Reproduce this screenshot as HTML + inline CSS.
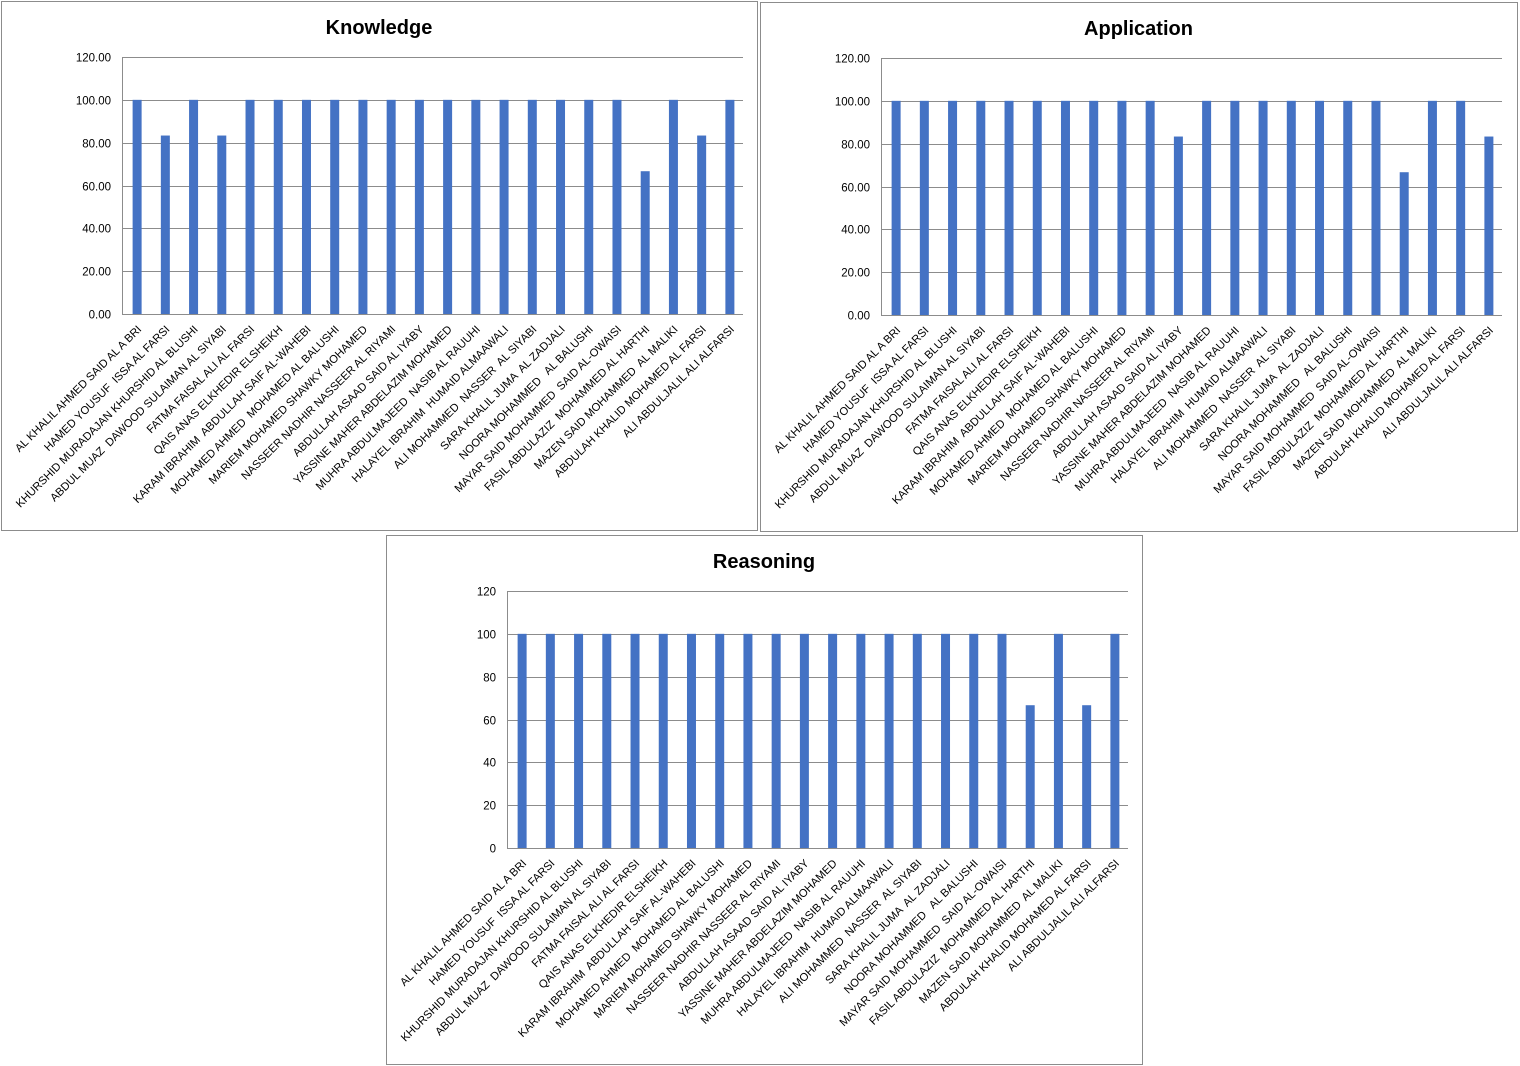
<!DOCTYPE html>
<html><head><meta charset="utf-8"><style>
html,body{margin:0;padding:0;background:#fff;width:1520px;height:1066px;overflow:hidden}
svg{display:block}
text{font-family:"Liberation Sans",sans-serif}
</style></head><body>
<svg id="s" width="1520" height="1066" xmlns="http://www.w3.org/2000/svg"></svg>
<script>
const names=["AL KHALIL AHMED SAID AL A BRI","HAMED YOUSUF  ISSA AL FARSI","KHURSHID MURADAJAN KHURSHID AL BLUSHI","ABDUL MUAZ  DAWOOD SULAIMAN AL SIYABI","FATMA FAISAL ALI AL FARSI","QAIS ANAS ELKHEDIR ELSHEIKH","KARAM IBRAHIM  ABDULLAH SAIF AL-WAHEBI","MOHAMED AHMED  MOHAMED AL BALUSHI","MARIEM MOHAMED SHAWKY MOHAMED","NASSEER NADHIR NASSEER AL RIYAMI","ABDULLAH ASAAD SAID AL IYABY","YASSINE MAHER ABDELAZIM MOHAMED","MUHRA ABDULMAJEED  NASIB AL RAUUHI","HALAYEL IBRAHIM  HUMAID ALMAAWALI","ALI MOHAMMED  NASSER  AL SIYABI","SARA KHALIL JUMA  AL ZADJALI","NOORA MOHAMMED   AL BALUSHI","MAYAR SAID MOHAMMED  SAID AL-OWAISI","FASIL ABDULAZIZ  MOHAMMED AL HARTHI","MAZEN SAID MOHAMMED  AL MALIKI","ABDULAH KHALID MOHAMED AL FARSI","ALI ABDULJALIL ALI ALFARSI"];
function arr(over){const a=Array(22).fill(100);for(const k in over)a[k]=over[k];return a;}
const charts=[
 {bx:1,by:1,bw:756,bh:529,title:"Knowledge",ty:27,ax:122,rx:743,y0:314,y120:57,dec:true,v:arr({1:83.33,3:83.33,18:66.67,20:83.33})},
 {bx:760,by:2,bw:757,bh:529,title:"Application",ty:28,ax:881,rx:1502,y0:315,y120:58,dec:true,v:arr({10:83.33,18:66.67,21:83.33})},
 {bx:386,by:535,bw:756,bh:529,title:"Reasoning",ty:561,ax:507,rx:1128,y0:848,y120:591,dec:false,v:arr({18:66.67,20:66.67})}
];
let h='';
for(const c of charts){
 h+=`<rect x="${c.bx+0.5}" y="${c.by+0.5}" width="${c.bw}" height="${c.bh}" fill="#fff" stroke="#8c8c8c" stroke-width="1"/>`;
 h+=`<text x="${c.bx+c.bw/2}" y="${c.ty+7}" text-anchor="middle" font-size="20" font-weight="bold" fill="#000">${c.title}</text>`;
 const sc=(c.y0-c.y120)/120;
 for(let t=0;t<=120;t+=20){
  const y=Math.round(c.y0-t*sc)+0.5;
  h+=`<line x1="${c.ax}" x2="${c.rx}" y1="${y}" y2="${y}" stroke="#8c8c8c" stroke-width="1"/>`;
  h+=`<text x="${c.ax-11}" y="${y+4}" text-anchor="end" font-size="11.5" fill="#000">${c.dec?t.toFixed(2):t}</text>`;
 }
 h+=`<line x1="${c.ax+0.5}" x2="${c.ax+0.5}" y1="${c.y120}" y2="${c.y0}" stroke="#8c8c8c"/>`;
 const step=(c.rx-c.ax)/22;
 for(let i=0;i<22;i++){
  const cx=c.ax+1+step*(i+0.5);
  const top=c.y0-c.v[i]*sc;
  h+=`<rect x="${cx-4.5}" y="${top}" width="9" height="${c.y0-top}" fill="#4472c4"/>`;
  const lx=cx+5, ly=c.y0+16;
  h+=`<text x="${lx}" y="${ly}" transform="rotate(-45 ${lx} ${ly})" text-anchor="end" font-size="11.2" fill="#000" xml:space="preserve">${names[i]}</text>`;
 }
}
document.getElementById('s').innerHTML=h;
</script>
</body></html>
